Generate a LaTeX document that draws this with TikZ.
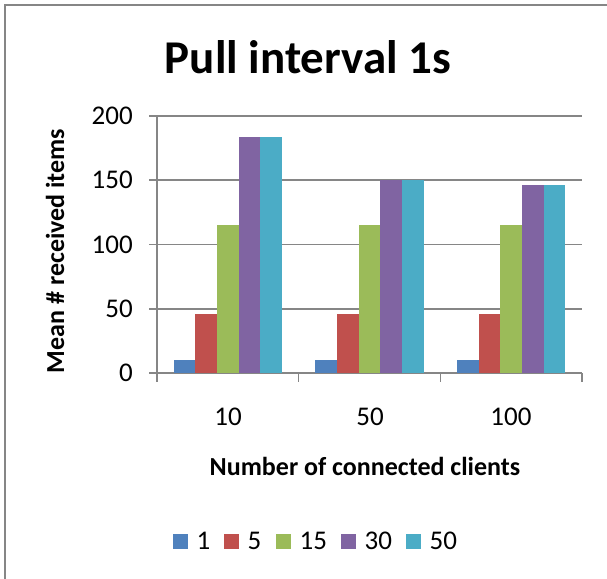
\documentclass[tikz,border=0pt]{standalone}
\usepackage{fontspec}
\setmainfont{Carlito}
\definecolor{framegray}{HTML}{868686}
\definecolor{serA}{HTML}{4F81BD}
\definecolor{serB}{HTML}{C0504D}
\definecolor{serC}{HTML}{9BBB59}
\definecolor{serD}{HTML}{8064A2}
\definecolor{serE}{HTML}{4BACC6}
\begin{document}
\begin{tikzpicture}[x=1pt,y=-1pt,
  ticklabel/.style={font=\fontsize{27}{31}\selectfont,inner sep=0pt},
  axistitle/.style={font=\fontsize{26}{30}\selectfont\bfseries,inner sep=0pt},
  gridline/.style={draw=framegray,line width=1.6pt},
  keybox/.style={minimum size=15pt,inner sep=0pt}]
\useasboundingbox (0,0) rectangle (607,578);
\draw[framegray,line width=2pt] (5,600) -- (5,5) -- (620,5);
\node[font=\fontsize{47}{53}\selectfont\bfseries] (title) at (308,57) {Pull interval 1s};
% value axis and grid
\foreach \v in {0,50,100,150,200}{
  \draw[gridline] (149,{373-1.285*\v}) -- (582,{373-1.285*\v});
  \node[ticklabel,anchor=east] (y\v) at (133,{373-1.285*\v}) {\v};
}
\draw[gridline] (157,116) -- (157,373);
\foreach \i in {0,1,2,3}
  \draw[gridline] ({157+141.67*\i},373) -- ({157+141.67*\i},382);
% bars
\foreach \i/\d/\e in {0/184/184,1/150/150,2/146/146}{
  \foreach \k/\val/\col in {0/10/serA,1/46/serB,2/115/serC,3/\d/serD,4/\e/serE}
    \fill[\col] ({157+141.67*\i+16.6+21.7*\k},373) rectangle ++(21.7,{-1.285*\val});
}
% category labels
\node[ticklabel] (c10) at (228,417) {10};
\node[ticklabel] (c50) at (370,417) {50};
\node[ticklabel] (c100) at (511,417) {100};
\node[axistitle] (xtitle) at (365,466) {Number of connected clients};
\node[axistitle,rotate=90] (ytitle) at (55,251) {Mean \# received items};
% legend
\foreach \x/\col/\lab in {173/serA/1,224/serB/5,276/serC/15,341/serD/30,406/serE/50}{
  \node[keybox,fill=\col,anchor=west] (k\lab) at (\x,541) {};
  \node[ticklabel,anchor=west] (l\lab) at ([xshift=8pt]k\lab.east) {\lab};
}
\end{tikzpicture}
\end{document}
